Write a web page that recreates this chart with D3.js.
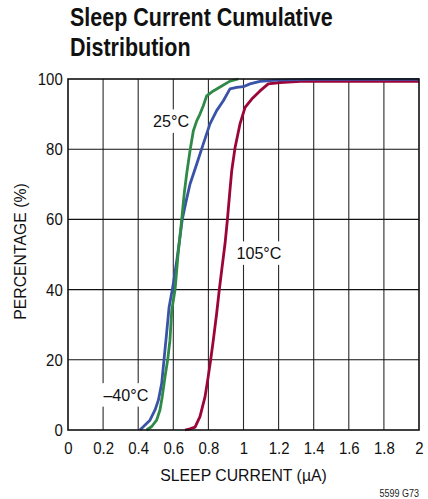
<!DOCTYPE html>
<html>
<head>
<meta charset="utf-8">
<script src="https://cdn.jsdelivr.net/npm/d3@7"></script>
<style>
  html, body { margin: 0; padding: 0; background: #fff; }
  svg { display: block; }
  text { font-family: "Liberation Sans", Arial, sans-serif; }
</style>
</head>
<body>
<svg id="chart" width="428" height="499"></svg>
<script>
// ---- data ----
const xTicks = [0, 0.2, 0.4, 0.6, 0.8, 1, 1.2, 1.4, 1.6, 1.8, 2];
const yTicks = [0, 20, 40, 60, 80, 100];

const currentM40 = [0.410, 0.439, 0.467, 0.496, 0.515, 0.534, 0.547, 0.562, 0.576, 0.598, 0.622, 0.638, 0.651, 0.672, 0.695, 0.733, 0.771, 0.809, 0.847, 0.885, 0.923, 0.961, 0.999, 1.037, 1.094, 1.189, 1.36, 2.0];
const pctM40     = [0, 1.4, 2.8, 5.7, 8.5, 13.3, 20, 27.6, 35, 41, 49, 55, 60, 65, 70, 75.7, 81.5, 87.2, 91, 93.8, 97.2, 97.6, 97.8, 98.6, 99.3, 99.7, 99.9, 99.9];

const current25 = [0.448, 0.477, 0.505, 0.524, 0.537, 0.553, 0.568, 0.581, 0.591, 0.610, 0.627, 0.644, 0.663, 0.676, 0.695, 0.714, 0.733, 0.752, 0.771, 0.790, 0.828, 0.876, 0.923, 0.970];
const pct25     = [0, 1, 2.8, 5.7, 9.5, 15.2, 20, 25.6, 34, 40, 50, 58, 67.7, 72.9, 79.5, 85.2, 88, 90, 92.4, 95.2, 96.6, 98, 99.4, 100];

const current105 = [0.667, 0.695, 0.724, 0.752, 0.781, 0.799, 0.813, 0.828, 0.847, 0.862, 0.876, 0.895, 0.908, 0.923, 0.933, 0.952, 0.980, 1.009, 1.047, 1.094, 1.141, 1.208, 1.322, 2.0];
const pct105     = [0, 0.3, 0.8, 3.8, 9.5, 15.2, 20, 25.6, 33.2, 39.9, 45.6, 53.2, 59.8, 68.4, 73.9, 80.5, 87.2, 91.9, 94.3, 96.6, 98.6, 99, 99.3, 99.3];

const seriesNames = ["–40°C", "25°C", "105°C"];
const seriesColors = ["#3a53a6", "#2f8a47", "#9c0538"];
const labelX = [0.33, 0.587, 1.088];
const labelY = [10, 88, 50.4];

// ---- layout ----
const svg = d3.select("#chart");
const M = { left: 68, right: 419, top: 79, bottom: 430 };
const x = d3.scaleLinear().domain([0, 2]).range([M.left, M.right]);
const y = d3.scaleLinear().domain([0, 100]).range([M.bottom, M.top]);
const SX = 0.88; // horizontal condensing of text (narrow font look)

// title
const title = svg.append("text").attr("transform", `translate(70,26) scale(0.86,1)`)
  .style("font-size", "25px").style("font-weight", "bold").attr("fill", "#111");
title.append("tspan").attr("x", 0).attr("dy", 0).text("Sleep Current Cumulative");
title.append("tspan").attr("x", 0).attr("dy", 30).text("Distribution");

// grid
const grid = svg.append("g");
grid.selectAll("line.v").data(xTicks.slice(1, -1)).join("line")
  .attr("x1", d => x(d)).attr("x2", d => x(d))
  .attr("y1", M.top).attr("y2", M.bottom)
  .attr("stroke", "#2a2a2a").attr("stroke-width", 1.1);
grid.selectAll("line.h").data(yTicks.slice(1, -1)).join("line")
  .attr("x1", M.left).attr("x2", M.right)
  .attr("y1", d => y(d)).attr("y2", d => y(d))
  .attr("stroke", "#111").attr("stroke-width", 1.1);

// axes (labels only)
const xAxis = d3.axisBottom(x).tickValues(xTicks).tickSize(0).tickPadding(12)
  .tickFormat(d => d3.format("~g")(d));
const gx = svg.append("g").attr("transform", `translate(0,${M.bottom})`).call(xAxis);
gx.select(".domain").remove();
gx.selectAll("text").style("font-size", "17px").attr("fill", "#111")
  .attr("transform", `scale(${SX},1)`);

const yAxis = d3.axisLeft(y).tickValues(yTicks).tickSize(0).tickPadding(6);
const gy = svg.append("g").attr("transform", `translate(${M.left},0)`).call(yAxis);
gy.select(".domain").remove();
gy.selectAll("text").style("font-size", "17px").attr("fill", "#111")
  .attr("transform", `scale(${SX},1)`);

// axis titles
svg.append("text").attr("transform", `translate(${(M.left + M.right) / 2},481) scale(0.93,1)`)
  .attr("text-anchor", "middle").style("font-size", "17px").attr("fill", "#111")
  .text("SLEEP CURRENT (µA)");
svg.append("text").attr("transform", `translate(26,${(M.top + M.bottom) / 2 - 3}) rotate(-90) scale(0.93,1)`)
  .attr("text-anchor", "middle").style("font-size", "17px").attr("fill", "#111")
  .text("PERCENTAGE (%)");

// series labels with white background
seriesNames.forEach((name, i) => {
  const g = svg.append("g").attr("transform", `translate(${x(labelX[i])},${y(labelY[i])}) scale(0.95,1)`);
  const t = g.append("text").attr("x", 0).attr("y", 0)
    .attr("text-anchor", "middle").attr("dominant-baseline", "central")
    .style("font-size", "17px").attr("fill", "#111").text(name);
  const b = t.node().getBBox();
  g.insert("rect", "text").attr("x", b.x - 3).attr("y", b.y - 2)
    .attr("width", b.width + 6).attr("height", b.height + 4).attr("fill", "#fff");
});

// curves
const line = d3.line().x(d => x(d[0])).y(d => y(d[1]));
const series = [
  d3.zip(current105, pct105),
  d3.zip(currentM40, pctM40),
  d3.zip(current25, pct25)
];
const colorsOrdered = [seriesColors[2], seriesColors[0], seriesColors[1]];
series.forEach((s, i) => {
  svg.append("path").datum(s).attr("d", line)
    .attr("fill", "none").attr("stroke", colorsOrdered[i])
    .attr("stroke-width", 2.8).attr("stroke-linejoin", "round");
});

// frame
svg.append("rect").attr("x", M.left).attr("y", M.top)
  .attr("width", M.right - M.left).attr("height", M.bottom - M.top)
  .attr("fill", "none").attr("stroke", "#111").attr("stroke-width", 1.6);

// figure code
svg.append("text").attr("transform", "translate(419,497) scale(0.9,1)").attr("text-anchor", "end")
  .style("font-size", "10px").attr("fill", "#222").text("5599 G73");
</script>
</body>
</html>
